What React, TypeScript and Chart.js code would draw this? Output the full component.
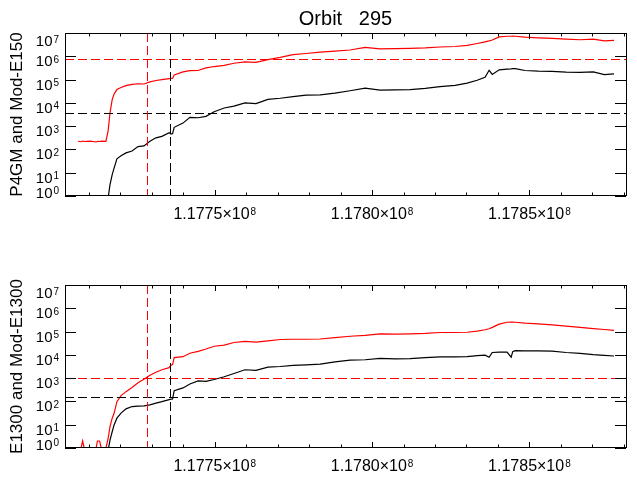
import React, { useEffect, useRef } from "react";
import { Chart, registerables } from "chart.js";

Chart.register(...registerables);

// ---- data ----
const times = [
  117706500, 117707500, 117708000, 117708500, 117710400, 117712300, 117712700, 117713400, 117713900, 117715400,
  117716100, 117716700, 117717400, 117718000, 117718900, 117720200, 117721800, 117723700, 117725600, 117727500,
  117729400, 117731300, 117733200, 117735500, 117736100, 117736600, 117737100, 117739900, 117742100, 117744700,
  117747200, 117749800, 117753000, 117756100, 117759600, 117763100, 117766900, 117770800, 117774900, 117779000,
  117783500, 117788200, 117793000, 117797800, 117802500, 117807300, 117812100, 117816900, 117821600, 117826400,
  117830200, 117833400, 117835900, 117837200, 117838200, 117840400, 117842900, 117844200, 117844700, 117845500,
  117848600, 117852800, 117857200, 117861700, 117866100, 117870300, 117873800, 117876900,
];

// top panel: P4GM (red) and Mod-E150 (black)
const topRed = [
  224, 214, 229, 219, 229, 209, 224, 219, 229, 224,
  631, 3720, 13800, 24000, 37200, 45700, 55000, 61700, 66100, 64600,
  79400, 91200, 100000, 110000, 112000, 115000, 158000, 214000, 240000, 245000,
  316000, 363000, 407000, 501000, 575000, 550000, 724000, 891000, 1.17e6, 1.32e6,
  1.51e6, 1.66e6, 1.86e6, 2.4e6, 2.09e6, 2.14e6, 2.19e6, 2.29e6, 2.51e6, 2.63e6,
  2.95e6, 3.55e6, 4.17e6, 4.57e6, 5.01e6, 6.76e6, 7.24e6, 7.24e6, 7.41e6, 7.24e6,
  6.61e6, 6.17e6, 5.89e6, 5.5e6, 5.13e6, 5.5e6, 4.57e6, 4.79e6,
];
const topBlack = [
  null, null, null, null, null, null, null, null, null, null,
  0.8, 3.1, 8.3, 15.8, 39.8, 53.7, 70.8, 85.1, 132, 141,
  224, 316, 363, 525, 457, 479, 891, 1350, 2400, 2290,
  2630, 4170, 6030, 7240, 10000, 9330, 14100, 15800, 18600, 21400,
  21900, 26300, 33100, 42700, 35500, 36300, 37200, 41700, 50100, 56200,
  70800, 93300, 126000, 251000, 166000, 263000, 282000, 288000, 295000, 295000,
  245000, 229000, 224000, 209000, 204000, 214000, 162000, 174000,
];

// bottom panel: E1300 (red) and Mod-E1300 (black)
const bottomRed = [
  1, 1, 2, 1, 1, 1, 2, 2, 1, 1,
  2.5, 8.3, 19.1, 30.9, 97.7, 178, 263, 398, 631, 891,
  1320, 1780, 2290, 2820, 3630, 3800, 7590, 8320, 11700, 14100,
  17800, 23400, 26300, 33900, 38000, 35500, 39800, 45700, 46800, 46800,
  47900, 55000, 63100, 69200, 79400, 77600, 79400, 83200, 91200, 91200,
  93300, 105000, 120000, 132000, 151000, 209000, 251000, 257000, 257000, 251000,
  229000, 214000, 195000, 170000, 151000, 135000, 123000, 112000,
];
const bottomBlack = [
  null, null, null, null, null, null, null, null, null, null,
  0.8, 2.2, 5.0, 9.8, 19.1, 31.6, 47.9, 60.3, 63.1, 64.6,
  70.8, 85.1, 97.7, 120, 126, 129, 288, 380, 562, 759,
  724, 871, 1150, 1580, 2290, 2140, 2950, 3160, 3550, 3720,
  3980, 5010, 5890, 6170, 7080, 6760, 6920, 7590, 8130, 8130,
  8320, 9330, 9770, 7940, 12600, 13200, 13200, 7940, 13800, 15100,
  14800, 14800, 14500, 12600, 11500, 10200, 9550, 8910,
];

// reference levels and cut times
const topLevels = [760000, 3570]; // red, black
const bottomLevels = [1000, 150]; // red, black
const cutTimes = [117728600, 117735900]; // red, black

// axes
const xMin = 117702400;
const xMax = 117880700;
const xMajorTicks = [117750000, 117800000, 117850000];
const xMajorLabels = ["1.1775", "1.1780", "1.1785"];
const xExponent = "8";
const xMinorTicks = [
  117710000, 117720000, 117730000, 117740000, 117760000, 117770000, 117780000, 117790000,
  117810000, 117820000, 117830000, 117840000, 117860000, 117870000, 117880000,
];
const yDecades = [0, 1, 2, 3, 4, 5, 6, 7];

const RED = "#ff0000";
const BLACK = "#000000";
const FONT = '"Liberation Sans", "DejaVu Sans", sans-serif';
const DASH = [9, 4];

type PanelCfg = {
  title: string;
  yTitle: string;
  red: (number | null)[];
  black: (number | null)[];
  levels: number[];
  padTop: number;
  xAxisHeight: number;
};

const topCfg: PanelCfg = {
  title: "Orbit   295",
  yTitle: "P4GM and Mod-E150",
  red: topRed,
  black: topBlack,
  levels: topLevels,
  padTop: 33,
  xAxisHeight: 44,
};

const bottomCfg: PanelCfg = {
  title: "",
  yTitle: "E1300 and Mod-E1300",
  red: bottomRed,
  black: bottomBlack,
  levels: bottomLevels,
  padTop: 45,
  xAxisHeight: 32,
};

function makeFrame(cfg: PanelCfg) {
  return {
    id: "idlFrame",
    afterDatasetsDraw(chart: any) {
      const { ctx, chartArea: a } = chart;
      const xs = chart.scales.x;
      const ys = chart.scales.y;
      const L = a.left, R = a.right, T = a.top, B = a.bottom;
      const colors = [RED, BLACK];
      ctx.save();
      ctx.lineWidth = 1;
      ctx.setLineDash(DASH);
      cfg.levels.forEach((lv, i) => {
        const py = Math.round(ys.getPixelForValue(lv)) + 0.5;
        ctx.strokeStyle = colors[i];
        ctx.beginPath();
        ctx.moveTo(L, py);
        ctx.lineTo(R, py);
        ctx.stroke();
      });
      cutTimes.forEach((t, i) => {
        const px = Math.round(xs.getPixelForValue(t)) + 0.5;
        ctx.strokeStyle = colors[i];
        ctx.beginPath();
        ctx.moveTo(px, T);
        ctx.lineTo(px, B);
        ctx.stroke();
      });
      ctx.restore();
    },
    afterDraw(chart: any) {
      const { ctx, chartArea: a } = chart;
      const xs = chart.scales.x;
      const ys = chart.scales.y;
      const L = a.left, R = a.right, T = a.top, B = a.bottom;
      ctx.save();
      ctx.strokeStyle = BLACK;
      ctx.lineWidth = 1;
      ctx.setLineDash([]);
      ctx.strokeRect(L + 0.5, T + 0.5, R - L, B - T - 1);

      ctx.beginPath();
      for (const v of xMinorTicks) {
        const px = Math.round(xs.getPixelForValue(v)) + 0.5;
        ctx.moveTo(px, B); ctx.lineTo(px, B - 3.5);
        ctx.moveTo(px, T); ctx.lineTo(px, T + 3.5);
      }
      for (const v of xMajorTicks) {
        const px = Math.round(xs.getPixelForValue(v)) + 0.5;
        ctx.moveTo(px, B); ctx.lineTo(px, B - 6);
        ctx.moveTo(px, T); ctx.lineTo(px, T + 6);
      }
      for (const n of yDecades) {
        const py = Math.round(ys.getPixelForValue(Math.pow(10, n))) + 0.5;
        ctx.moveTo(L, py); ctx.lineTo(L + 11, py);
        ctx.moveTo(R, py); ctx.lineTo(R - 11, py);
      }
      ctx.stroke();

      ctx.fillStyle = BLACK;
      const mainFont = "15px " + FONT;
      const xFont = "16px " + FONT;
      const supFont = "10px " + FONT;
      ctx.textBaseline = "alphabetic";
      const first = yDecades[0];
      const last = yDecades[yDecades.length - 1];
      for (const n of yDecades) {
        const py = ys.getPixelForValue(Math.pow(10, n));
        const base = n === first ? py + 1.5 : n === last ? py + 13 : py + 10;
        ctx.font = mainFont;
        ctx.textAlign = "right";
        ctx.fillText("10", 52.5, base);
        ctx.font = supFont;
        ctx.textAlign = "left";
        ctx.fillText(String(n), 53.5, base - 3.5);
      }

      xMajorTicks.forEach((v, i) => {
        const px = xs.getPixelForValue(v);
        const mainText = xMajorLabels[i] + "\u00d710";
        ctx.font = xFont;
        const w1 = ctx.measureText(mainText).width;
        ctx.font = supFont;
        const w2 = ctx.measureText(xExponent).width;
        const start = px - (w1 + 1 + w2) / 2;
        const base = B + 23;
        ctx.textAlign = "left";
        ctx.font = xFont;
        ctx.fillText(mainText, start, base);
        ctx.font = supFont;
        ctx.fillText(xExponent, start + w1 + 1, base - 4);
      });

      if (cfg.title) {
        ctx.font = "20px " + FONT;
        ctx.textAlign = "center";
        ctx.fillText(cfg.title, (L + R) / 2, 25);
      }

      ctx.save();
      ctx.translate(22, (T + B) / 2);
      ctx.rotate(-Math.PI / 2);
      ctx.font = "17px " + FONT;
      ctx.textAlign = "center";
      ctx.fillText(cfg.yTitle, 0, 0);
      ctx.restore();

      ctx.restore();
    },
  };
}

function toPoints(vals: (number | null)[]) {
  return times.map((t, i) => ({ x: t, y: vals[i] }));
}

function Panel({ cfg }: { cfg: PanelCfg }) {
  const ref = useRef<HTMLCanvasElement | null>(null);
  useEffect(() => {
    if (!ref.current) return;
    const lineBase = { pointRadius: 0, tension: 0, fill: false, spanGaps: false };
    const chart = new Chart(ref.current, {
      type: "line",
      data: {
        datasets: [
          { ...lineBase, data: toPoints(cfg.red), borderColor: RED, borderWidth: 1.2 },
          { ...lineBase, data: toPoints(cfg.black), borderColor: BLACK, borderWidth: 1.2 },
        ],
      } as any,
      options: {
        animation: false,
        responsive: false,
        devicePixelRatio: 1,
        layout: { padding: { left: 0, right: 11, top: cfg.padTop, bottom: 0 } },
        plugins: {
          legend: { display: false },
          tooltip: { enabled: false },
          title: { display: false },
        },
        scales: {
          x: {
            type: "linear",
            min: xMin,
            max: xMax,
            grid: { display: false },
            border: { display: false },
            ticks: { display: false },
            afterFit: (s: any) => { s.height = cfg.xAxisHeight; },
          },
          y: {
            type: "logarithmic",
            min: 1,
            max: 1e7,
            grid: { display: false },
            border: { display: false },
            ticks: { display: false },
            afterFit: (s: any) => { s.width = 65; },
          },
        },
      } as any,
      plugins: [makeFrame(cfg)],
    });
    return () => chart.destroy();
  }, [cfg]);
  return (
    <canvas
      ref={ref}
      width={637}
      height={240}
      style={{ display: "block", width: 637, height: 240 }}
    />
  );
}

export default function App() {
  return (
    <div
      style={{
        position: "absolute",
        left: 0,
        top: 0,
        width: 637,
        height: 480,
        background: "#ffffff",
      }}
    >
      <Panel cfg={topCfg} />
      <Panel cfg={bottomCfg} />
    </div>
  );
}
